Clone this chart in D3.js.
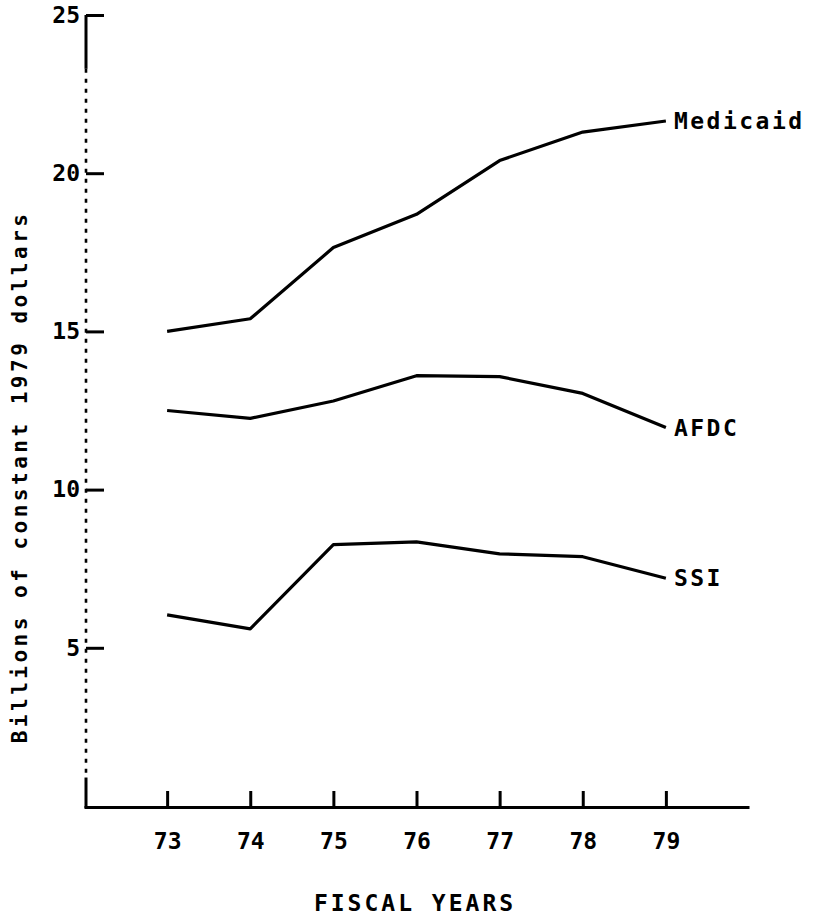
<!DOCTYPE html>
<html>
<head>
<meta charset="utf-8">
<script src="https://cdn.jsdelivr.net/npm/d3@7"></script>
<style>
  body { margin: 0; background: #fff; }
  text { font-family: 'DejaVu Sans Mono', monospace; fill: #000; }
</style>
</head>
<body>
<svg id="chart"></svg>
<script>
const years = [73, 74, 75, 76, 77, 78, 79]
const medicaid = [15.0, 15.4, 17.65, 18.7, 20.4, 21.3, 21.65]
const afdc = [12.5, 12.25, 12.8, 13.6, 13.57, 13.04, 11.96]
const ssi = [6.04, 5.6, 8.26, 8.35, 7.97, 7.88, 7.2]
const seriesNames = ['Medicaid', 'AFDC', 'SSI']
const yTicks = [5, 10, 15, 20, 25]

const width = 820
const height = 916

const svg = d3.select('#chart')
  .attr('width', width)
  .attr('height', height)

const x = d3.scaleLinear().domain([72, 80]).range([84, 749])
const y = d3.scaleLinear().domain([0, 25]).range([806, 15])
const axisX = 86

// x axis, ticks pointing up
const gx = svg.append('g')
  .attr('transform', `translate(0, ${y(0) + 1})`)
  .call(d3.axisBottom(x)
    .tickValues(years)
    .tickSizeInner(-16)
    .tickSizeOuter(0)
    .tickPadding(26))
gx.select('.domain').attr('stroke-width', 3)
gx.selectAll('.tick line').attr('stroke-width', 3)
gx.selectAll('.tick text')
  .style('font-size', '23px')
  .style('font-weight', 'bold')
  .attr('font-family', null)

// y axis, ticks pointing right
const gy = svg.append('g')
  .attr('transform', `translate(${axisX}, 0)`)
  .call(d3.axisLeft(y)
    .tickValues(yTicks)
    .tickSizeInner(-18)
    .tickSizeOuter(0)
    .tickPadding(6))
gy.select('.domain').remove()
gy.selectAll('.tick line').attr('stroke-width', 3)
gy.selectAll('.tick text')
  .style('font-size', '23px')
  .style('font-weight', 'bold')
  .attr('font-family', null)

// rough, broken-up vertical axis like the scan
gy.append('line')
  .attr('x1', 0).attr('x2', 0)
  .attr('y1', y(25)).attr('y2', y(23.3))
  .attr('stroke', '#000').attr('stroke-width', 3)
gy.append('line')
  .attr('x1', 0).attr('x2', 0)
  .attr('y1', y(23.3)).attr('y2', y(0.9))
  .attr('stroke', '#000').attr('stroke-width', 2.6)
  .attr('stroke-dasharray', '4,6')
gy.append('line')
  .attr('x1', 0).attr('x2', 0)
  .attr('y1', y(0.9)).attr('y2', y(0) + 2)
  .attr('stroke', '#000').attr('stroke-width', 3)

// lines
const line = d3.line()
  .x((d, i) => x(years[i]))
  .y(d => y(d))

const allSeries = [medicaid, afdc, ssi]
svg.selectAll('.series')
  .data(allSeries)
  .enter()
  .append('path')
  .attr('class', 'series')
  .attr('d', line)
  .attr('fill', 'none')
  .attr('stroke', '#000')
  .attr('stroke-width', 3.2)
  .attr('stroke-linejoin', 'round')

// end labels
svg.selectAll('.series-label')
  .data(allSeries)
  .enter()
  .append('text')
  .attr('class', 'series-label')
  .attr('x', x(79) + 8)
  .attr('y', d => y(d[d.length - 1]))
  .attr('dy', '0.35em')
  .style('font-size', '23px')
  .style('font-weight', 'bold')
  .style('letter-spacing', '2.5px')
  .text((d, i) => seriesNames[i])

// axis titles
svg.append('text')
  .attr('x', 415)
  .attr('y', 903)
  .attr('dy', '0.35em')
  .attr('text-anchor', 'middle')
  .style('font-size', '23px')
  .style('font-weight', 'bold')
  .style('letter-spacing', '3px')
  .text('FISCAL YEARS')

svg.append('text')
  .attr('transform', `translate(20, ${y(10.4)}) rotate(-90)`)
  .attr('dy', '0.35em')
  .attr('text-anchor', 'middle')
  .style('font-size', '21px')
  .style('font-weight', 'bold')
  .style('letter-spacing', '3.5px')
  .text('Billions of constant 1979 dollars')
</script>
</body>
</html>
